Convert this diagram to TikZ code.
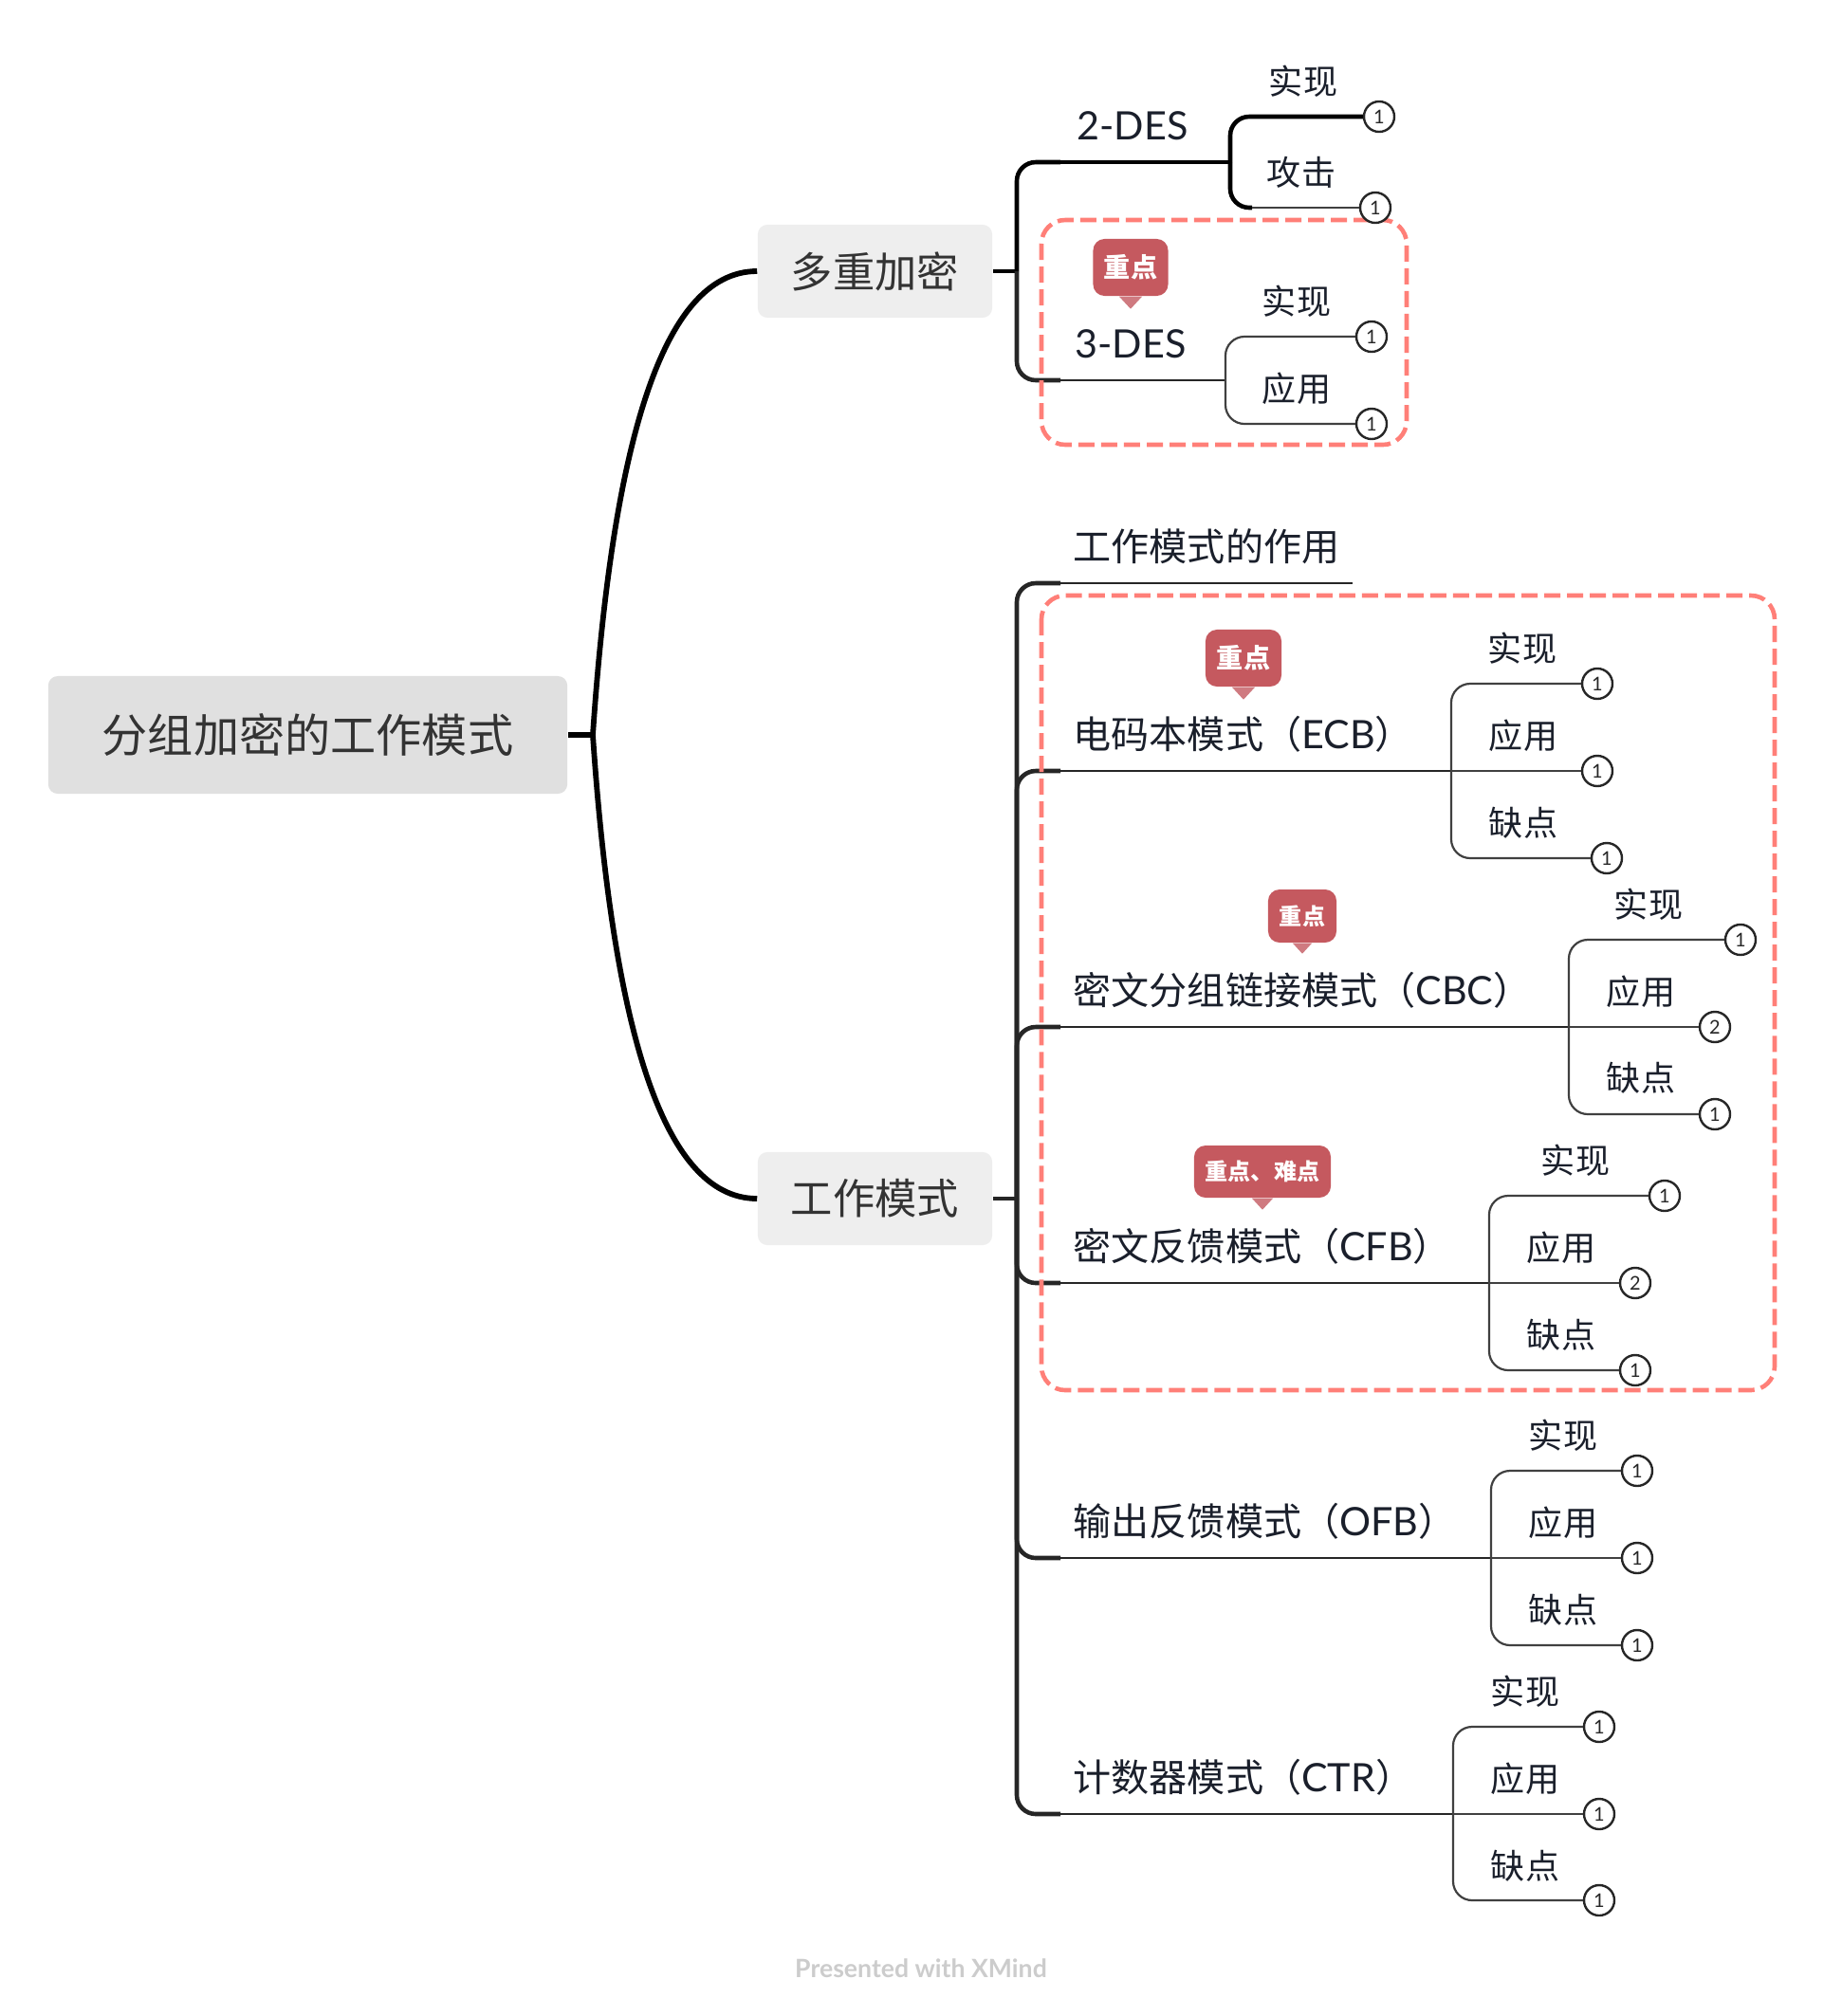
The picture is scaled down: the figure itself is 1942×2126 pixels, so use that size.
\documentclass[tikz,border=0pt]{standalone}
\usepackage{fontspec}
\setmainfont{Noto Sans CJK SC}
\newfontfamily\lat[Scale=1.03]{Lato}
\definecolor{inkdark}{HTML}{1A1F2B}
\definecolor{rootgray}{HTML}{E0E0E0}
\definecolor{boxgray}{HTML}{EEEEEE}
\definecolor{framered}{HTML}{FF7F78}
\definecolor{tagred}{HTML}{C5595F}
\definecolor{tagtip}{HTML}{CF7A80}
\definecolor{footgray}{HTML}{CCCCCC}
\tikzset{
  rootbox/.style={fill=rootgray, rounded corners=0.1cm, minimum width=5.47cm, minimum height=1.24cm, text=black!80, font=\fontsize{13.7pt}{16pt}\selectfont},
  subbox/.style={fill=boxgray, rounded corners=0.1cm, minimum width=2.47cm, minimum height=0.98cm, text=black!80, font=\fontsize{12.6pt}{15pt}\selectfont},
  topic/.style={anchor=west, inner sep=0pt, text=inkdark, font=\fontsize{11.4pt}{14pt}\selectfont},
  leaftext/.style={inner sep=0pt, text=inkdark, font=\fontsize{10.25pt}{12pt}\selectfont},
  count/.style={circle, draw=black!85, fill=white, line width=0.024cm, minimum size=0.32cm, inner sep=0pt, text=black!85, font=\lat\fontsize{5.5pt}{6pt}\selectfont},
  heavy/.style={line width=0.058cm, black},
  stem/.style={line width=0.046cm, black!85, rounded corners=0.2cm},
  thin stem/.style={line width=0.024cm, black!85},
  leafline/.style={line width=0.022cm, black!75, rounded corners=0.2cm},
  frame/.style={draw=framered, line width=0.046cm, dash pattern=on 0.17cm off 0.07cm, rounded corners=0.25cm},
  tag/.style={fill=tagred, rounded corners=0.12cm, text=white, inner sep=0pt, font=\bfseries\fontsize{#1}{9pt}\selectfont},
  tag/.default={8pt},
}
\begin{document}
\begin{tikzpicture}[x=0.01cm,y=-0.01cm]
    \useasboundingbox (0,0) rectangle (1942,2126);

    % Hubs and bends
    \coordinate (rootHub) at (625,775);
    \coordinate (encHub) at (1072,286);
    \coordinate (modeHub) at (1072,1264);
    \coordinate (twoBend) at (1118,171);
    \coordinate (twoFork) at (1297,171);
    \coordinate (threeBend) at (1118,401);
    \coordinate (threeFork) at (1292,401);
    \coordinate (useBend) at (1118,615);
    \coordinate (useEnd) at (1426,615);
    \coordinate (ecbBend) at (1118,813);
    \coordinate (ecbFork) at (1530,813);
    \coordinate (cbcBend) at (1118,1083);
    \coordinate (cbcFork) at (1654,1083);
    \coordinate (cfbBend) at (1118,1353);
    \coordinate (cfbFork) at (1570,1353);
    \coordinate (ofbBend) at (1118,1643);
    \coordinate (ofbFork) at (1572,1643);
    \coordinate (ctrBend) at (1118,1913);
    \coordinate (ctrFork) at (1532,1913);

    % Root and first level
    \node[rootbox] (rootNode) at (324.5,775) {分组加密的工作模式};
    \node[subbox] (encBox) at (922.5,286) {多重加密};
    \node[subbox] (modeBox) at (922.5,1264) {工作模式};
    \draw[heavy] (rootNode.east) -- (rootHub);
    \draw[heavy] (rootHub) .. controls (645,480) and (695,286) .. (encBox.west);
    \draw[heavy] (rootHub) .. controls (645,1070) and (695,1264) .. (modeBox.west);

    % Trunks
    \draw[stem, black] (encBox.east) -- (encHub);
    \draw[stem, black] (encHub) |- (twoBend);
    \draw[stem] (encHub) |- (threeBend);
    \draw[stem] (modeBox.east) -- (modeHub);
    \draw[stem] (modeHub) |- (useBend);
    \draw[stem] (modeHub) |- (ecbBend);
    \draw[stem] (modeHub) |- (cbcBend);
    \draw[stem] (modeHub) |- (cfbBend);
    \draw[stem] (modeHub) |- (ofbBend);
    \draw[stem] (modeHub) |- (ctrBend);
    \draw[stem, black] (twoBend) -- (twoFork);
    \draw[thin stem] (threeBend) -- (threeFork);
    \draw[thin stem] (useBend) -- (useEnd);
    \draw[thin stem] (ecbBend) -- (ecbFork);
    \draw[thin stem] (cbcBend) -- (cbcFork);
    \draw[thin stem] (cfbBend) -- (cfbFork);
    \draw[thin stem] (ofbBend) -- (ofbFork);
    \draw[thin stem] (ctrBend) -- (ctrFork);

    % Dashed frames
    \draw[frame] (1098,232) rectangle (1483,469);
    \draw[frame] (1098,628) rectangle (1871,1466);

    % 2-DES
    \node[topic, anchor=center] (twoText) at (1194,133) {\lat 2-DES};
    \node[leaftext] (twoImplText) at (1374,86) {实现};
    \node[leaftext] (twoAtkText) at (1372,182) {攻击};
    \node[count] (twoImpl) at (1454,123) {1};
    \node[count] (twoAtk) at (1450,219) {1};
    \draw[stem, black] (twoFork) |- (twoImpl.west);
    \draw[stem, black] (twoFork) |- (1320,219);
    \draw[leafline] (1320,219) -- (twoAtk.west);

    % 3-DES
    \node[topic, anchor=center] (threeText) at (1192,363) {\lat 3-DES};
    \node[leaftext] (threeImplText) at (1367,318) {实现};
    \node[leaftext] (threeUseText) at (1367,410) {应用};
    \node[count] (threeImpl) at (1446,355) {1};
    \node[count] (threeUse) at (1446,447) {1};
    \draw[leafline] (threeFork) |- (threeImpl.west);
    \draw[leafline] (threeFork) |- (threeUse.west);
    \node[tag, minimum width=0.79cm, minimum height=0.6cm] (threeTag) at (1192,282) {重点};
    \fill[tagtip] ([xshift=-0.12cm]threeTag.south) -- ([xshift=0.12cm]threeTag.south) -- ([yshift=-0.13cm]threeTag.south) -- cycle;

    % Purpose of the modes
    \node[topic] (useText) at (1131,576) {工作模式的作用};

    % ECB
    \node[topic] (ecbText) at (1131,774) {电码本模式（{\lat ECB}）};
    \node[leaftext] (ecbImplText) at (1605,684) {实现};
    \node[leaftext] (ecbUseText) at (1606,776) {应用};
    \node[leaftext] (ecbFlawText) at (1606,868) {缺点};
    \node[count] (ecbImpl) at (1684,721) {1};
    \node[count] (ecbUse) at (1684,813) {1};
    \node[count] (ecbFlaw) at (1694,905) {1};
    \draw[leafline] (ecbFork) |- (ecbImpl.west);
    \draw[leafline] (ecbFork) -- (ecbUse.west);
    \draw[leafline] (ecbFork) |- (ecbFlaw.west);
    \node[tag, minimum width=0.8cm, minimum height=0.6cm] (ecbTag) at (1311,694) {重点};
    \fill[tagtip] ([xshift=-0.12cm]ecbTag.south) -- ([xshift=0.12cm]ecbTag.south) -- ([yshift=-0.13cm]ecbTag.south) -- cycle;

    % CBC
    \node[topic] (cbcText) at (1131,1044) {密文分组链接模式（{\lat CBC}）};
    \node[leaftext] (cbcImplText) at (1738,954) {实现};
    \node[leaftext] (cbcUseText) at (1730,1046) {应用};
    \node[leaftext] (cbcFlawText) at (1730,1137) {缺点};
    \node[count] (cbcImpl) at (1835,991) {1};
    \node[count] (cbcUse) at (1808,1083) {2};
    \node[count] (cbcFlaw) at (1808,1175) {1};
    \draw[leafline] (cbcFork) |- (cbcImpl.west);
    \draw[leafline] (cbcFork) -- (cbcUse.west);
    \draw[leafline] (cbcFork) |- (cbcFlaw.west);
    \node[tag=6.84pt, minimum width=0.72cm, minimum height=0.56cm] (cbcTag) at (1373,966) {重点};
    \fill[tagtip] ([xshift=-0.1cm]cbcTag.south) -- ([xshift=0.1cm]cbcTag.south) -- ([yshift=-0.11cm]cbcTag.south) -- cycle;

    % CFB
    \node[topic] (cfbText) at (1131,1314) {密文反馈模式（{\lat CFB}）};
    \node[leaftext] (cfbImplText) at (1661,1224) {实现};
    \node[leaftext] (cfbUseText) at (1646,1316) {应用};
    \node[leaftext] (cfbFlawText) at (1646,1408) {缺点};
    \node[count] (cfbImpl) at (1755,1261) {1};
    \node[count] (cfbUse) at (1724,1353) {2};
    \node[count] (cfbFlaw) at (1724,1445) {1};
    \draw[leafline] (cfbFork) |- (cfbImpl.west);
    \draw[leafline] (cfbFork) -- (cfbUse.west);
    \draw[leafline] (cfbFork) |- (cfbFlaw.west);
    \node[tag=6.84pt, minimum width=1.44cm, minimum height=0.55cm] (cfbTag) at (1331,1235.5) {重点、难点};
    \fill[tagtip] ([xshift=-0.11cm]cfbTag.south) -- ([xshift=0.11cm]cfbTag.south) -- ([yshift=-0.12cm]cfbTag.south) -- cycle;

    % OFB
    \node[topic] (ofbText) at (1131,1604) {输出反馈模式（{\lat OFB}）};
    \node[leaftext] (ofbImplText) at (1648,1514) {实现};
    \node[leaftext] (ofbUseText) at (1648,1606) {应用};
    \node[leaftext] (ofbFlawText) at (1648,1698) {缺点};
    \node[count] (ofbImpl) at (1726,1551) {1};
    \node[count] (ofbUse) at (1726,1643) {1};
    \node[count] (ofbFlaw) at (1726,1735) {1};
    \draw[leafline] (ofbFork) |- (ofbImpl.west);
    \draw[leafline] (ofbFork) -- (ofbUse.west);
    \draw[leafline] (ofbFork) |- (ofbFlaw.west);

    % CTR
    \node[topic] (ctrText) at (1131,1874) {计数器模式（{\lat CTR}）};
    \node[leaftext] (ctrImplText) at (1608,1784) {实现};
    \node[leaftext] (ctrUseText) at (1608,1876) {应用};
    \node[leaftext] (ctrFlawText) at (1608,1968) {缺点};
    \node[count] (ctrImpl) at (1686,1821) {1};
    \node[count] (ctrUse) at (1686,1913) {1};
    \node[count] (ctrFlaw) at (1686,2004) {1};
    \draw[leafline] (ctrFork) |- (ctrImpl.west);
    \draw[leafline] (ctrFork) -- (ctrUse.west);
    \draw[leafline] (ctrFork) |- (ctrFlaw.west);

    % Footer
    \node[inner sep=0pt, text=footgray, font=\lat\bfseries\fontsize{7.35pt}{9pt}\selectfont] (footNote) at (971,2076) {Presented with XMind};
\end{tikzpicture}
\end{document}
